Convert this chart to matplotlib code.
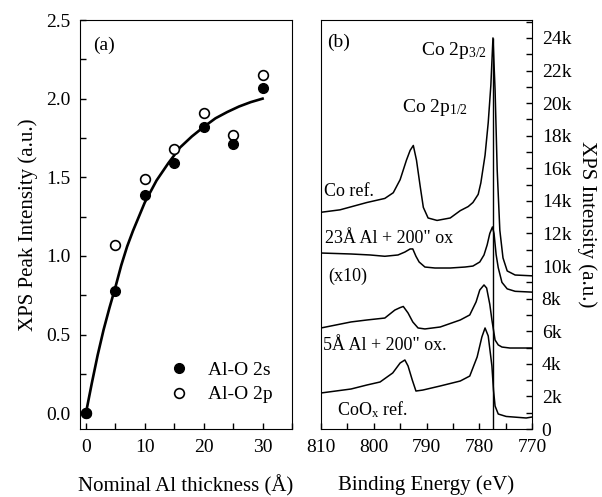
import matplotlib
matplotlib.use("Agg")
import matplotlib.pyplot as plt
from matplotlib.ticker import MultipleLocator, FuncFormatter

plt.rcParams['font.family'] = ['Liberation Serif', 'DejaVu Serif']
plt.rcParams['mathtext.fontset'] = 'custom'
plt.rcParams['mathtext.rm'] = 'Liberation Serif'
plt.rcParams['mathtext.it'] = 'Liberation Serif:italic'

# (a) XPS peak intensity vs nominal Al thickness
thickness = [0, 5, 10, 15, 20, 25, 30]
al_o_2s = [0.0, 0.78, 1.39, 1.59, 1.82, 1.71, 2.07]
al_o_2p = [0.0, 1.07, 1.49, 1.68, 1.91, 1.77, 2.15]
fit_x = [0, 1, 2, 3, 4, 5, 6, 7, 8, 9, 10, 12, 14, 16, 18, 20, 22, 24, 26, 28, 30]
fit_y = [0.0, 0.19, 0.37, 0.53, 0.67, 0.80, 0.94, 1.06, 1.16, 1.25, 1.34, 1.48, 1.59,
         1.69, 1.76, 1.82, 1.875, 1.915, 1.95, 1.978, 2.0]

# (b) Co 2p spectra (binding energy in eV, intensity in counts)
co_ref_E = [810.0, 806.4, 801.3, 797.9, 796.3, 795.0, 793.8, 793.1, 792.5, 791.9, 791.2,
            790.6, 789.7, 788.0, 785.5, 783.6, 782.1, 781.2, 780.2, 779.7, 778.9, 778.3,
            777.8, 777.4, 777.0, 776.6, 776.1, 775.5, 774.7, 773.2, 770.0]
co_ref_I = [13300, 13450, 13900, 14150, 14500, 15300, 16500, 17100, 17400, 16500, 14900,
            13600, 12950, 12800, 12950, 13400, 13650, 13900, 14400, 15100, 16800, 18800,
            21100, 24000, 20800, 15900, 12200, 10500, 9700, 9450, 9400]

al23_E = [810.0, 804.3, 800.7, 797.9, 795.4, 794.1, 793.1, 792.6, 792.0, 791.4, 790.3,
          788.4, 785.5, 782.7, 781.2, 779.9, 779.1, 778.5, 778.0, 777.5, 777.2, 776.8,
          776.4, 775.7, 774.7, 773.2, 770.0]
al23_I = [10800, 10740, 10680, 10600, 10680, 10860, 11050, 11050, 10600, 10250, 9940,
          9880, 9880, 9940, 10000, 10250, 10680, 11300, 12000, 12400, 12000, 10700,
          9900, 9000, 8600, 8450, 8400]

al5_E = [810.0, 804.3, 801.3, 797.9, 796.0, 795.0, 794.4, 793.5, 792.6, 791.6, 790.3,
         787.4, 783.6, 781.8, 780.6, 779.9, 779.1, 778.6, 778.0, 777.6, 777.0, 776.4,
         775.7, 774.2, 770.0]
al5_I = [6200, 6570, 6690, 6810, 7300, 7450, 7520, 7120, 6570, 6200, 6140,
         6260, 6690, 7000, 7800, 8530, 8840, 8650, 7650, 6690, 5460, 5160,
         5030, 4970, 4970]

coox_E = [810.0, 804.3, 801.3, 798.8, 796.4, 795.0, 794.1, 793.5, 792.7, 792.0, 790.7,
          787.4, 783.6, 781.8, 780.4, 779.5, 778.9, 778.3, 777.6, 777.3, 777.0, 776.4,
          774.9, 771.1, 770.0]
coox_I = [2210, 2455, 2700, 2885, 3440, 4050, 4235, 3870, 3010, 2330, 2390,
          2640, 2945, 3250, 4420, 5650, 6200, 5710, 3870, 2390, 1410, 920,
          770, 675, 735]

peak_E = 777.4
peak_top = 24000

fig = plt.figure(figsize=(6.02, 4.97), dpi=100)
ax1 = fig.add_axes([80 / 602, 68 / 497, 212 / 602, 409 / 497])
ax2 = fig.add_axes([321 / 602, 68 / 497, 211 / 602, 409 / 497])

fs = 14

# panel (a)
ax1.plot(fit_x, fit_y, color='black', lw=1.9, zorder=2)
ax1.plot(thickness, al_o_2p, 'o', ms=7, mfc='white', mec='black', mew=1.2,
         label='Al-O 2p', zorder=3)
ax1.plot(thickness, al_o_2s, 'o', ms=7, mfc='black', mec='black',
         label='Al-O 2s', zorder=4)
ax1.set_xlim(-1, 35)
ax1.set_ylim(-0.1, 2.5)
ax1.xaxis.set_major_locator(MultipleLocator(10))
ax1.xaxis.set_minor_locator(MultipleLocator(5))
ax1.yaxis.set_major_locator(MultipleLocator(0.5))
ax1.yaxis.set_minor_locator(MultipleLocator(0.25))
ax1.yaxis.set_major_formatter(FuncFormatter(lambda v, p: '%.1f' % v))
ax1.tick_params(which='both', direction='in', length=4, width=1, labelsize=fs, pad=7)
ax1.set_xlabel('Nominal Al thickness (Å)', fontsize=fs + 1, labelpad=14)
ax1.set_ylabel('XPS Peak Intensity (a.u.)', fontsize=fs + 1, labelpad=6)
ax1.text(0.06, 0.96, '(a)', transform=ax1.transAxes, fontsize=fs, va='top')
h, l = ax1.get_legend_handles_labels()
ax1.legend(h[::-1], l[::-1], loc='lower right', bbox_to_anchor=(0.99, 0.02),
           frameon=False, fontsize=fs, handlelength=1.0, handletextpad=1.0,
           labelspacing=0.35)

# panel (b)
for E, I in [(co_ref_E, co_ref_I), (al23_E, al23_I), (al5_E, al5_I), (coox_E, coox_I)]:
    ax2.plot(E, I, color='black', lw=1.1)
ax2.vlines(peak_E, 0, peak_top, color='black', lw=1.0)
ax2.set_xlim(810, 770)
ax2.set_ylim(0, 25100)
ax2.xaxis.set_major_locator(MultipleLocator(10))
ax2.xaxis.set_minor_locator(MultipleLocator(5))
ax2.yaxis.set_major_locator(MultipleLocator(2000))
ax2.yaxis.set_minor_locator(MultipleLocator(1000))
ax2.yaxis.set_major_formatter(FuncFormatter(
    lambda v, p: '0' if v == 0 else '%dk' % round(v / 1000)))
ax2.yaxis.tick_right()
ax2.yaxis.set_label_position('right')
ax2.tick_params(which='both', direction='in', length=4, width=1, labelsize=fs, pad=7)
ax2.set_xlabel('Binding Energy (eV)', fontsize=fs + 1, labelpad=14)
ax2.set_ylabel('XPS Intensity (a.u.)', fontsize=fs + 1, rotation=-90, labelpad=18)

ax2.text(808.9, 23700, '(b)', fontsize=fs, va='center')
ax2.text(791.0, 23200, r'Co 2p$_{\mathrm{3/2}}$', fontsize=fs, va='center')
ax2.text(794.6, 19700, r'Co 2p$_{\mathrm{1/2}}$', fontsize=fs, va='center')
ax2.text(809.4, 14600, 'Co ref.', fontsize=fs - 1, va='center')
ax2.text(809.2, 11700, '23Å Al + 200" ox', fontsize=fs - 1, va='center')
ax2.text(808.6, 9350, '(x10)', fontsize=fs - 1, va='center')
ax2.text(809.6, 5150, '5Å Al + 200" ox.', fontsize=fs - 1, va='center')
ax2.text(807.0, 1200, r'CoO$_{\mathrm{x}}$ ref.', fontsize=fs - 1, va='center')

fig.savefig('out.png', dpi=100)
